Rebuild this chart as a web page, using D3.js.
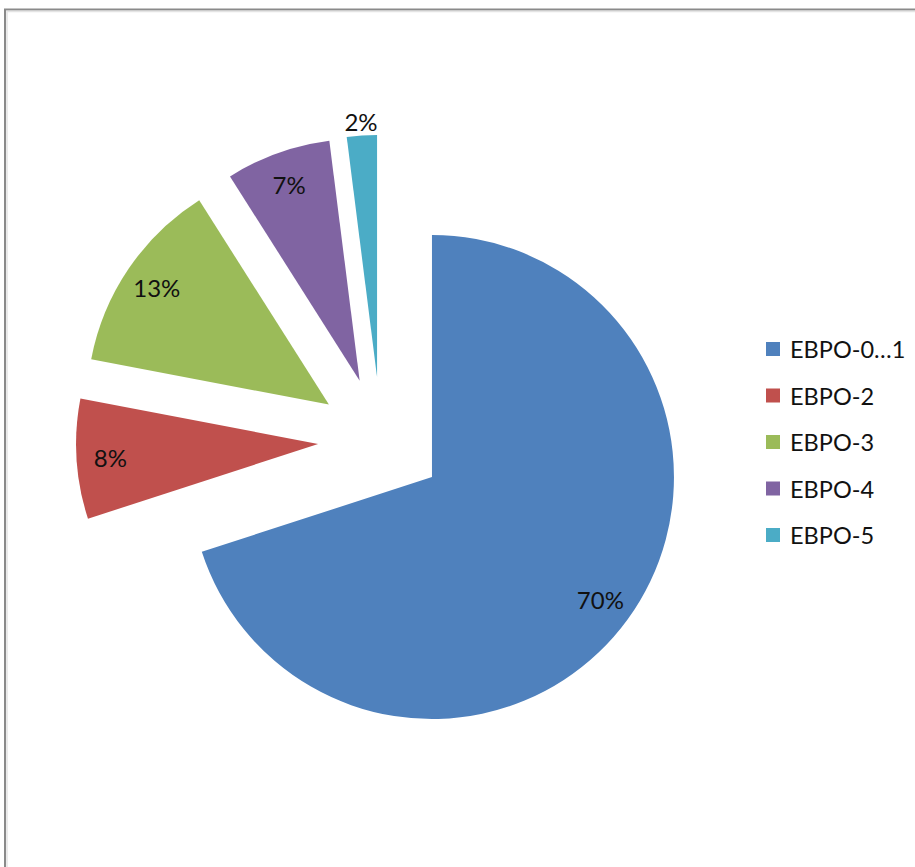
<!DOCTYPE html>
<html>
<head>
<meta charset="utf-8">
<script src="https://cdn.jsdelivr.net/npm/d3@7"></script>
<style>
  html, body { margin: 0; padding: 0; background: #fff; }
  svg { display: block; }
  text { font-family: Lato, "Open Sans", "DejaVu Sans", sans-serif; fill: #111; }
</style>
</head>
<body>
<svg id="chart" width="915" height="867"></svg>
<script>
// Share of each category, in percent
const categories = ["EBPO-0…1", "EBPO-2", "EBPO-3", "EBPO-4", "EBPO-5"];
const shares = [70, 8, 13, 7, 2];

const palette = ["#4F81BD", "#C0504D", "#9BBB59", "#8064A2", "#4BACC6"];

const W = 915, H = 867;
const svg = d3.select("#chart");

// Frame around the chart area
svg.append("path")
  .attr("d", `M5,${H} L5,9.5 L${W},9.5`)
  .attr("fill", "none")
  .attr("stroke", "#8a8a8a")
  .attr("stroke-width", 2);
svg.append("path")
  .attr("d", `M7,${H} L7,11.5 L${W},11.5`)
  .attr("fill", "none")
  .attr("stroke", "#e4e4e4")
  .attr("stroke-width", 1.5);

const color = d3.scaleOrdinal().domain(categories).range(palette);

const cx = 381, cy = 440;
const radius = 242;
const explode = 63;

const data = categories.map((c, i) => ({ name: c, value: shares[i] }));

const pie = d3.pie()
  .value(d => d.value)
  .sort(null)
  .startAngle(0)
  .endAngle(2 * Math.PI);

const arc = d3.arc().innerRadius(0).outerRadius(radius);

const arcs = pie(data);

const mid = d => (d.startAngle + d.endAngle) / 2;
const offset = (d, dist) => [Math.sin(mid(d)) * dist, -Math.cos(mid(d)) * dist];

const g = svg.append("g").attr("transform", `translate(${cx},${cy})`);

const slice = g.selectAll("g.slice")
  .data(arcs)
  .join("g")
  .attr("class", "slice")
  .attr("transform", d => {
    const [dx, dy] = offset(d, explode);
    return `translate(${dx},${dy})`;
  });

slice.append("path")
  .attr("d", arc)
  .attr("fill", d => color(d.data.name));

// Percentage labels: inside the slice, or just outside for thin slices
slice.append("text")
  .attr("transform", d => {
    const dist = d.data.value < 5 ? radius + 14 : radius * 0.86;
    const [x, y] = offset(d, dist);
    return `translate(${x},${y})`;
  })
  .attr("text-anchor", "middle")
  .attr("dominant-baseline", "central")
  .style("font-size", "24px")
  .text(d => d.data.value + "%");

// Legend
const legend = svg.append("g").attr("transform", "translate(766,349)");
const item = legend.selectAll("g")
  .data(categories)
  .join("g")
  .attr("transform", (d, i) => `translate(0,${i * 46.5})`);

item.append("rect")
  .attr("x", 0).attr("y", -7)
  .attr("width", 14).attr("height", 14)
  .attr("fill", d => color(d));

item.append("text")
  .attr("x", 24)
  .attr("y", 0)
  .attr("dominant-baseline", "central")
  .style("font-size", "23.5px")
  .text(d => d);
</script>
</body>
</html>
